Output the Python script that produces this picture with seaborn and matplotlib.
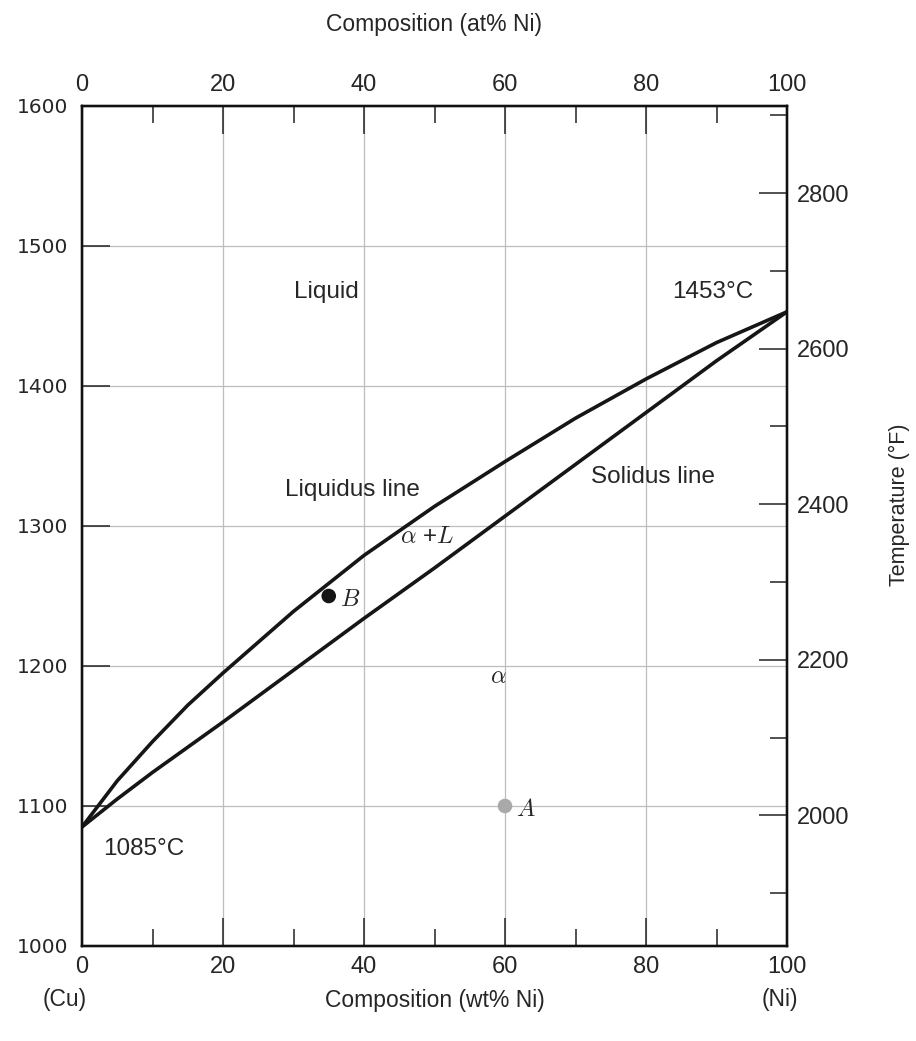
import pandas as pd
import seaborn as sns
import matplotlib.pyplot as plt
from matplotlib.ticker import MultipleLocator

sns.set_style('ticks')
plt.rcParams['font.family'] = ['Liberation Sans', 'DejaVu Sans']
plt.rcParams['mathtext.fontset'] = 'cm'

# Cu-Ni 상태도: 조성(wt% Ni)별 액상선/고상선 온도(°C)
wt_ni = [0, 5, 10, 15, 20, 30, 40, 50, 60, 70, 80, 90, 100]
liquidus_c = [1085, 1118, 1146, 1172, 1195, 1239, 1279, 1314, 1346, 1377, 1405, 1431, 1453]
solidus_c = [1085, 1105, 1124, 1142, 1160, 1197, 1234, 1270, 1307, 1344, 1381, 1418, 1453]

# 표시된 점 A, B
point_names = ['A', 'B']
point_wt = [60, 35]
point_c = [1100, 1250]
point_colors = ['#a9a9a9', '#151515']

df = pd.DataFrame({
    'wt': wt_ni + wt_ni,
    'temp': liquidus_c + solidus_c,
    'line': ['liquidus'] * len(wt_ni) + ['solidus'] * len(wt_ni),
})
pts = pd.DataFrame({'wt': point_wt, 'temp': point_c, 'name': point_names})

fig = plt.figure(figsize=(9.16, 10.41), dpi=100)
ax = fig.add_axes([82 / 916, 95 / 1041, 705 / 916, 840 / 1041])

ax.grid(True, which='major', color='#bdbdbd', lw=0.9)
ax.set_axisbelow(True)

sns.lineplot(data=df, x='wt', y='temp', hue='line', palette=['#161616', '#161616'],
             estimator=None, lw=2.6, legend=False, ax=ax)
sns.scatterplot(data=pts, x='wt', y='temp', hue='name', palette=point_colors,
                s=110, edgecolor='none', legend=False, ax=ax, zorder=5)

ax.set_xlim(0, 100)
ax.set_ylim(1000, 1600)
ax.xaxis.set_major_locator(MultipleLocator(20))
ax.xaxis.set_minor_locator(MultipleLocator(10))
ax.yaxis.set_major_locator(MultipleLocator(100))
ax.tick_params(axis='both', which='major', direction='in', length=20, width=1.1, color='#222222')
ax.tick_params(axis='x', which='minor', direction='in', length=12, width=1.1, color='#222222')
ax.tick_params(axis='x', labelsize=17, pad=7)
ax.tick_params(axis='y', labelsize=14.5, pad=10)
for lab in ax.get_yticklabels():
    lab.set_family('DejaVu Sans')

ax.set_xlabel('Composition (wt% Ni)', fontsize=16.5)
ax.xaxis.set_label_coords(0.5, -0.051)
ax.set_ylabel('')
ax.text(-2.5, -0.064, '(Cu)', transform=ax.get_xaxis_transform(), ha='center', va='center', fontsize=16.5)
ax.text(99, -0.064, '(Ni)', transform=ax.get_xaxis_transform(), ha='center', va='center', fontsize=16.5)

# 위쪽 축: at% Ni
ax_top = ax.twiny()
ax_top.set_xlim(0, 100)
ax_top.xaxis.set_major_locator(MultipleLocator(20))
ax_top.xaxis.set_minor_locator(MultipleLocator(10))
ax_top.tick_params(axis='x', which='major', direction='in', length=20, width=1.1, labelsize=17, pad=7, color='#222222')
ax_top.tick_params(axis='x', which='minor', direction='in', length=12, width=1.1, color='#222222')
ax_top.set_xlabel('Composition (at% Ni)', fontsize=16.5)
ax_top.xaxis.set_label_coords(0.5, 1.089)

# 오른쪽 축: °F
ax_r = ax.twinx()
ax_r.set_ylim(1000 * 9 / 5 + 32, 1600 * 9 / 5 + 32)
ax_r.yaxis.set_major_locator(MultipleLocator(200))
ax_r.yaxis.set_minor_locator(MultipleLocator(100))
ax_r.tick_params(axis='y', which='major', direction='in', length=20, width=1.1, labelsize=17, pad=7, color='#222222')
ax_r.tick_params(axis='y', which='minor', direction='in', length=12, width=1.1, color='#222222')
ax_r.set_ylabel('Temperature (°F)', fontsize=15.5)
ax_r.yaxis.label.set_va('center')
ax_r.yaxis.set_label_coords(1.160, 0.525)

for a in (ax, ax_top, ax_r):
    for sp in a.spines.values():
        sp.set_linewidth(1.6)
        sp.set_color('#111111')

# 영역/값 주석
fs = 17.5
ax.text(34.7, 1467, 'Liquid', ha='center', va='center', fontsize=fs)
ax.text(95.2, 1467, '1453°C', ha='right', va='center', fontsize=fs)
ax.text(38.4, 1326, 'Liquidus line', ha='center', va='center', fontsize=fs)
ax.text(81, 1335, 'Solidus line', ha='center', va='center', fontsize=fs)
ax.text(49, 1292, r'$\alpha$ +$L$', ha='center', va='center', fontsize=fs)
ax.text(59.1, 1192, r'$\alpha$', ha='center', va='center', fontsize=fs)
ax.text(8.8, 1069, '1085°C', ha='center', va='center', fontsize=fs)
for name, x, y in zip(point_names, point_wt, point_c):
    ax.text(x + 1.6, y - 3, '$' + name + '$', ha='left', va='center', fontsize=fs)

fig.savefig('out.png', dpi=100)
